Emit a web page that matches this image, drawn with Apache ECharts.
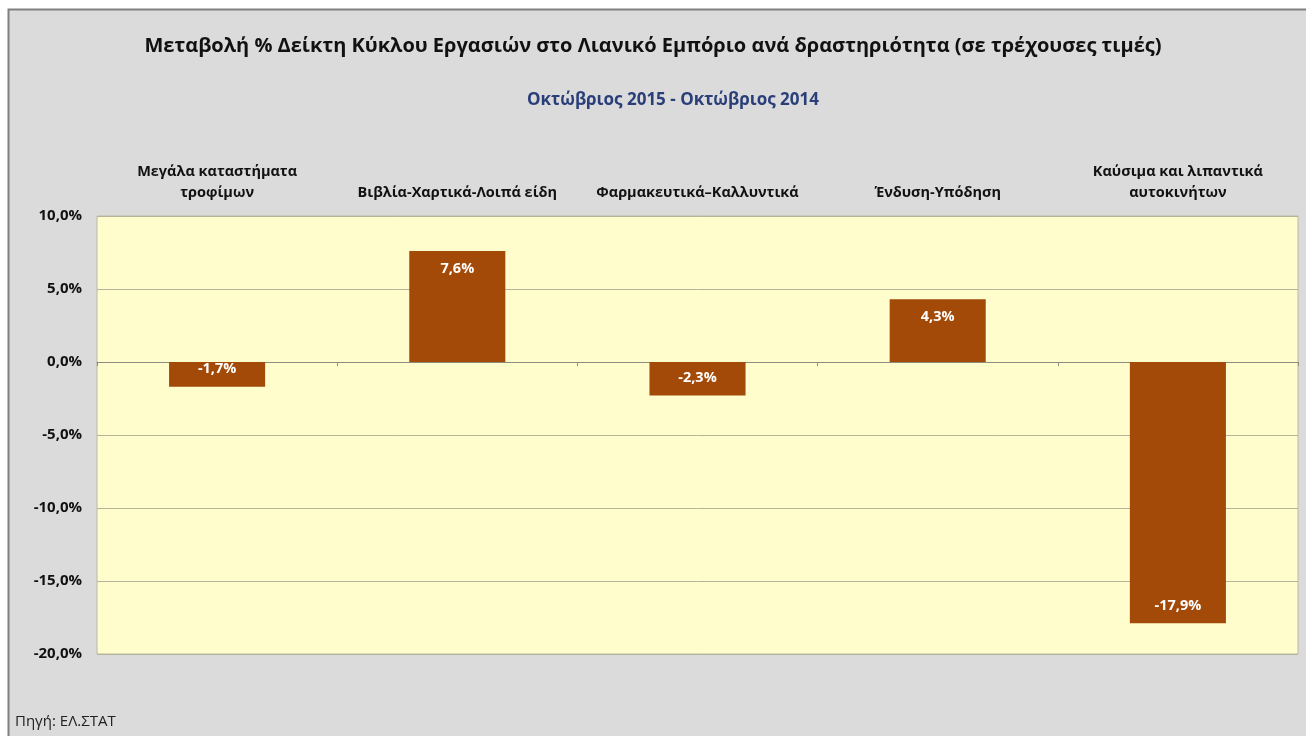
<!DOCTYPE html>
<html>
<head>
<meta charset="utf-8">
<script src="https://cdn.jsdelivr.net/npm/echarts@6/dist/echarts.min.js"></script>
<style>
  html, body { margin: 0; padding: 0; background: #ffffff; }
  #chart { width: 1306px; height: 736px; }
</style>
</head>
<body>
<div id="chart"></div>
<script>
// δεδομένα
const categories = [
  'Μεγάλα καταστήματα\nτροφίμων',
  'Βιβλία-Χαρτικά-Λοιπά είδη',
  'Φαρμακευτικά–Καλλυντικά',
  'Ένδυση-Υπόδηση',
  'Καύσιμα και λιπαντικά\nαυτοκινήτων'
]
const values = [-1.7, 7.6, -2.3, 4.3, -17.9]

const font = '"Open Sans", "Noto Sans", sans-serif'

const chart = echarts.init(document.getElementById('chart'))
const option = {
  backgroundColor: '#ffffff',
  graphic: [
    {
      type: 'rect',
      z: -10,
      silent: true,
      shape: { x: 8.5, y: 9.5, width: 1310, height: 740 },
      style: { fill: '#dbdbdb', stroke: '#808080', lineWidth: 2 }
    }
  ],
  title: [
    {
      text: 'Μεταβολή % Δείκτη Κύκλου Εργασιών στο Λιανικό Εμπόριο ανά δραστηριότητα (σε τρέχουσες τιμές)',
      left: 'center',
      top: 31,
      textStyle: { fontFamily: font, fontSize: 20, fontWeight: 'bold', color: '#111' }
    },
    {
      text: 'Οκτώβριος 2015 - Οκτώβριος 2014',
      left: 522,
      top: 87,
      textStyle: { fontFamily: font, fontSize: 17, fontWeight: 'bold', color: '#2a3f7a' }
    },
    {
      text: 'Πηγή: ΕΛ.ΣΤΑΤ',
      left: 10,
      top: 709,
      textStyle: { fontFamily: font, fontSize: 15, fontWeight: 'normal', color: '#222' }
    }
  ],
  grid: {
    left: 97,
    right: 8,
    top: 216,
    bottom: 82,
    show: true,
    backgroundColor: '#fffdcc',
    borderColor: '#b8b8a8',
    borderWidth: 1
  },
  xAxis: [
    {
      type: 'category',
      data: categories,
      position: 'top',
      axisLine: { show: false, onZero: false },
      axisTick: { show: false },
      axisLabel: {
        fontFamily: font, fontSize: 14.5, fontWeight: 'bold', color: '#111',
        lineHeight: 21, margin: 13, interval: 0
      }
    },
    {
      type: 'category',
      data: categories,
      position: 'bottom',
      axisLine: { show: true, onZero: true, lineStyle: { color: '#8c8c80', width: 1 } },
      axisTick: { show: true, length: 4, inside: false, lineStyle: { color: '#8c8c80' } },
      axisLabel: { show: false }
    }
  ],
  yAxis: {
    type: 'value',
    min: -20,
    max: 10,
    interval: 5,
    axisLine: { show: false },
    axisTick: { show: false },
    axisLabel: {
      fontFamily: font, fontSize: 15, fontWeight: 'bold', color: '#111', margin: 15,
      formatter: v => v.toFixed(1).replace('.', ',') + '%'
    },
    splitLine: { lineStyle: { color: '#b4b49a', width: 1 } }
  },
  series: [
    {
      type: 'bar',
      xAxisIndex: 0,
      barWidth: '40%',
      itemStyle: { color: '#a44a08' },
      data: values.map(v => ({
        value: v,
        label: { position: v >= 0 ? 'insideTop' : 'insideBottom' }
      })),
      label: {
        show: true,
        distance: 10,
        fontFamily: font,
        fontSize: 14.5,
        fontWeight: 'bold',
        color: '#fff',
        formatter: p => p.value.toFixed(1).replace('.', ',') + '%'
      }
    }
  ]
}
chart.setOption(option)
</script>
</body>
</html>
